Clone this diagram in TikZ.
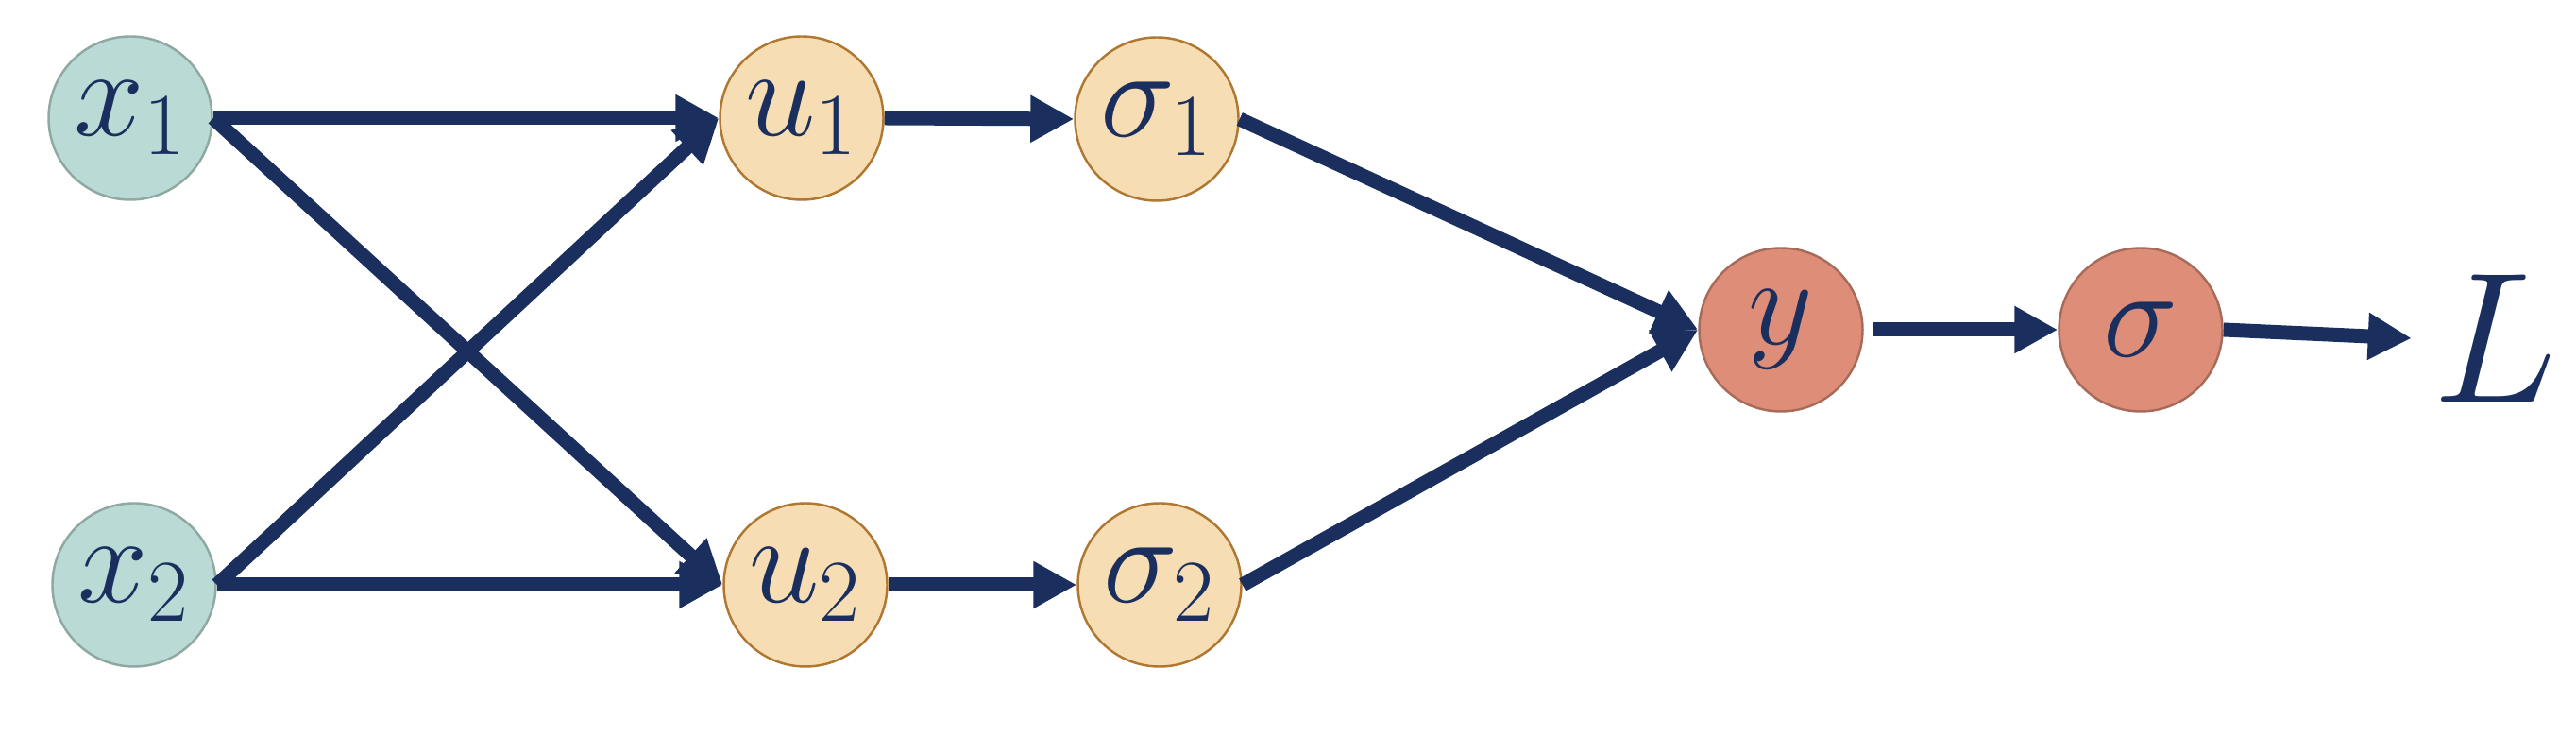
\RequirePackage{fix-cm}
\documentclass[tikz,border=0pt]{standalone}
\usetikzlibrary{arrows.meta}
\definecolor{navy}{HTML}{1B2F5E}
\definecolor{inpfill}{HTML}{B9DAD5}
\definecolor{inpline}{HTML}{8FA8A2}
\definecolor{hidfill}{HTML}{F7DDB3}
\definecolor{hidline}{HTML}{B07731}
\definecolor{outfill}{HTML}{DE8D79}
\definecolor{outline}{HTML}{A86B5A}
\begin{document}
\begin{tikzpicture}
        \tikzstyle{unit}=[circle,line width=0.7pt,minimum size=1.73cm,inner sep=0pt,text=navy,font=\fontsize{38}{40}\selectfont]
        \tikzstyle{inp}=[unit,draw=inpline,fill=inpfill]
        \tikzstyle{hid}=[unit,draw=hidline,fill=hidfill]
        \tikzstyle{outp}=[unit,draw=outline,fill=outfill]
        \tikzstyle{edge}=[draw,navy,line width=0.15cm,-{Triangle[length=0.46cm,width=0.47cm]}]
        \useasboundingbox (0,0) rectangle (27.28,-7.98);
       \begin{scope}
         \node [inp] (x1) at (1.38,-1.25) {$x_1$};
         \node [inp] (x2) at (1.42,-6.19) {$x_2$};
         \node [hid] (u1) at (8.49,-1.25) {$u_1$};
         \node [hid] (u2) at (8.53,-6.19) {$u_2$};
         \node [hid] (s1) at (12.25,-1.26) {$\sigma_1$};
         \node [hid] (s2) at (12.28,-6.19) {$\sigma_2$};
         \node [outp] (y) at (18.86,-3.49) {$y$};
         \node [outp] (sg) at (22.67,-3.49) {$\sigma$};
         \node [text=navy,inner sep=0.22cm,font=\fontsize{56}{60}\selectfont] (L) at (26.42,-3.58) {$L$};
         \path (x1.east) edge [edge] (u1.west);
         \path (x1.east) edge [edge] (u2.west);
         \path (x2.east) edge [edge] (u1.west);
         \path (x2.east) edge [edge] (u2.west);
         \path (u1.east) edge [edge] (s1.west);
         \path (u2.east) edge [edge] (s2.west);
         \path (s1.east) edge [edge] (y.west);
         \path (s2.east) edge [edge] (y.west);
         \path (y.east) edge [edge,shorten <=0.1cm] (sg.west);
         \path (sg.east) edge [edge] (L.west);
        \end{scope}
      \end{tikzpicture}
\end{document}
